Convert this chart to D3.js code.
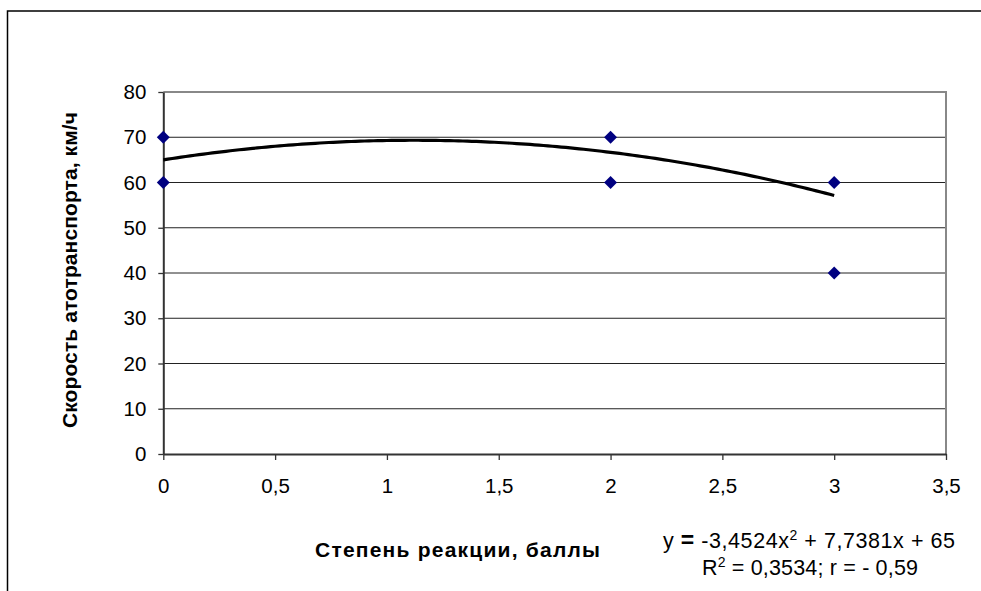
<!DOCTYPE html>
<html><head><meta charset="utf-8">
<script src="https://cdn.jsdelivr.net/npm/d3@7"></script>
<style>body{margin:0;background:#fff}svg{display:block}text{font-family:"Liberation Sans",Arial,sans-serif}</style>
</head><body>
<svg id="c" width="981" height="591"></svg>
<script>
const pointsX = [0, 0, 2, 2, 3, 3];
const pointsY = [70, 60, 70, 60, 60, 40];
const xTicks = [0, 0.5, 1, 1.5, 2, 2.5, 3, 3.5];
const yTicks = [0, 10, 20, 30, 40, 50, 60, 70, 80];
const trendCoef = [-3.4524, 7.7381, 65]; // a, b, c
const xTitle = "Степень реакции, баллы";
const yTitle = "Скорость атотранспорта, км/ч";
const eqLine1 = [["y ", null], ["=", "bold"], [" -3,4524x", null], ["2", "sup"], [" + 7,7381x + 65", null]];
const eqLine2 = [["R", null], ["2", "sup"], [" = 0,3534; r = - 0,59", null]];

const svg = d3.select("#c");
const L = 163.3, R = 946, T = 92, B = 454;
const x = d3.scaleLinear().domain([0, 3.5]).range([L, R]);
const y = d3.scaleLinear().domain([0, 80]).range([B, T]);
const fmt = d => String(d).replace(".", ",");
const FONT = "Liberation Sans, Arial, sans-serif";

// outer frame
svg.append("path").attr("d", `M7.5,591 V11 H981`).attr("fill", "none").attr("stroke", "#000").attr("stroke-width", 1.5);

// gridlines
svg.append("g").selectAll("line").data(yTicks.filter(d => d > 0 && d < 80)).join("line")
  .attr("x1", L).attr("x2", R).attr("y1", d => y(d)).attr("y2", d => y(d))
  .attr("stroke", "#222").attr("stroke-width", 1);
// top and right border (grey)
svg.append("path").attr("d", `M${L},${y(80)} H${R} V${B}`).attr("fill", "none").attr("stroke", "#888").attr("stroke-width", 2);

// axes
const xAxis = d3.axisBottom(x).tickValues(xTicks).tickFormat(fmt).tickSizeInner(6).tickSizeOuter(0).tickPadding(18);
const gx = svg.append("g").attr("transform", `translate(0,${B})`).call(xAxis);
const yAxis = d3.axisLeft(y).tickValues(yTicks).tickFormat(fmt).tickSizeInner(5).tickSizeOuter(0).tickPadding(12);
const gy = svg.append("g").attr("transform", `translate(${L},0)`).call(yAxis);
[gx, gy].forEach(g => {
  g.select(".domain").attr("stroke", "#333").attr("stroke-width", 2);
  g.selectAll(".tick line").attr("stroke", "#333").attr("stroke-width", 1.3);
  g.selectAll(".tick text").attr("font-family", FONT).attr("font-size", 20.5).attr("fill", "#000");
});

// trend line
const xs = d3.range(0, 3.0001, 0.02);
const tf = v => trendCoef[0] * v * v + trendCoef[1] * v + trendCoef[2];
svg.append("path").datum(xs)
  .attr("d", d3.line().x(d => x(d)).y(d => y(tf(d))))
  .attr("fill", "none").attr("stroke", "#000").attr("stroke-width", 3.2);

// points
svg.append("g").selectAll("path").data(pointsX.map((v, i) => [v, pointsY[i]])).join("path")
  .attr("transform", d => `translate(${x(d[0])},${y(d[1])}) rotate(45)`)
  .attr("d", d3.symbol().type(d3.symbolSquare).size(84)())
  .attr("fill", "#000080");

// titles
svg.append("text").attr("x", 457.5).attr("y", 557).attr("text-anchor", "middle")
  .attr("font-weight", "bold").attr("font-size", 21).attr("textLength", 285).attr("lengthAdjust", "spacing").text(xTitle);
svg.append("text").attr("transform", `translate(77,270) rotate(-90)`).attr("text-anchor", "middle")
  .attr("font-weight", "bold").attr("font-size", 21).attr("textLength", 316).attr("lengthAdjust", "spacing").text(yTitle);

// equation
function eq(parts, cx, by, len) {
  const t = svg.append("text").attr("x", cx).attr("y", by).attr("text-anchor", "middle")
    .attr("font-size", 21.5).attr("textLength", len).attr("lengthAdjust", "spacing");
  let prevSup = false;
  parts.forEach(([s, k]) => {
    const sp = t.append("tspan").text(s);
    if (k === "sup") { sp.attr("font-size", 14).attr("dy", -8); prevSup = true; }
    else {
      if (k === "bold") sp.attr("font-weight", "bold").attr("font-size", 23);
      if (prevSup) { sp.attr("dy", 8); prevSup = false; }
    }
  });
}
eq(eqLine1, 809, 548, 292);
eq(eqLine2, 810, 575, 216);
</script>
</body></html>
